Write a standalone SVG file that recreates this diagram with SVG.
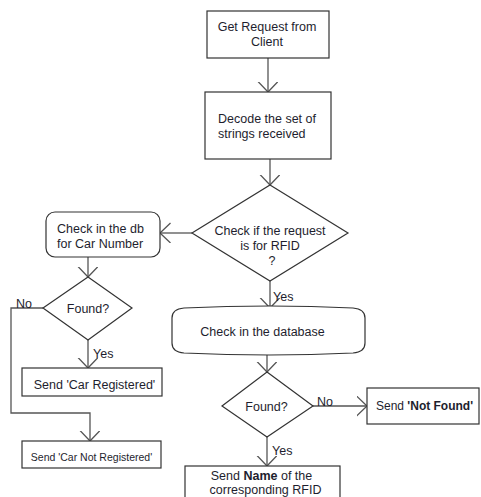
<svg xmlns="http://www.w3.org/2000/svg" width="481" height="497" viewBox="0 0 481 497">
<defs>
<style>
.shape{fill:#fff;stroke:#333;stroke-width:1.2}
.conn{fill:none;stroke:#555;stroke-width:1.3}
text{font-family:"Liberation Sans",Arial,sans-serif;font-size:12.5px;fill:#1e1e2e}
.m{text-anchor:middle}
.sm{font-size:10.5px}
</style>
<marker id="arr" markerUnits="userSpaceOnUse" markerWidth="12" markerHeight="22" refX="10.5" refY="10" orient="auto" viewBox="0 0 12 22">
<path d="M0,0 L10.5,10 L0,20" fill="none" stroke="#555" stroke-width="1.3"/>
</marker>
</defs>
<rect width="481" height="497" fill="#fff"/>
<g id="connectors">
<line class="conn" x1="268" y1="58" x2="268" y2="92" marker-end="url(#arr)"/>
<line class="conn" x1="270" y1="159" x2="270" y2="185" marker-end="url(#arr)"/>
<line class="conn" x1="192" y1="233" x2="160" y2="233" marker-end="url(#arr)"/>
<line class="conn" x1="88" y1="257" x2="88" y2="277" marker-end="url(#arr)"/>
<polyline class="conn" points="43,308 11,308 11,413 90,413 90,441" marker-end="url(#arr)"/>
<line class="conn" x1="88" y1="340" x2="88" y2="368" marker-end="url(#arr)"/>
<line class="conn" x1="270" y1="281" x2="270" y2="308" marker-end="url(#arr)"/>
<line class="conn" x1="267" y1="353" x2="267" y2="372" marker-end="url(#arr)"/>
<line class="conn" x1="313" y1="406" x2="367" y2="406" marker-end="url(#arr)"/>
<line class="conn" x1="267" y1="437" x2="267" y2="466" marker-end="url(#arr)"/>
<text x="16" y="307.5">No</text>
<text x="93" y="357.5">Yes</text>
<text x="273" y="300.5">Yes</text>
<text x="317" y="406">No</text>
<text x="272" y="454.5">Yes</text>
</g>
<g id="get-request">
<rect class="shape" x="207" y="11" width="122" height="47"/>
<text class="m" x="267" y="30.5">Get Request from</text>
<text class="m" x="267" y="45.5">Client</text>
</g>
<g id="decode">
<rect class="shape" x="205" y="92" width="126" height="67"/>
<text x="218" y="122.5">Decode the set of</text>
<text x="218" y="137.5">strings received</text>
</g>
<g id="check-rfid">
<polygon class="shape" points="270,185 348,233 270,281 192,233"/>
<text class="m" x="270" y="234.5">Check if the request</text>
<text class="m" x="270" y="249.5">is for RFID</text>
<text class="m" x="272" y="264.5">?</text>
</g>
<g id="check-db-car">
<rect class="shape" x="46" y="212" width="114" height="45" rx="9" ry="9"/>
<text x="57" y="232.5">Check in the db</text>
<text x="57" y="247.5">for Car Number</text>
</g>
<g id="found-car">
<polygon class="shape" points="88,277 132,308 88,340 43,308"/>
<text class="m" x="88" y="312.5">Found?</text>
</g>
<g id="car-registered">
<rect class="shape" x="22" y="368" width="140" height="28"/>
<text class="m" x="94.5" y="388.5">Send 'Car Registered'</text>
</g>
<g id="car-not-registered">
<rect class="shape" x="22" y="441" width="139" height="27"/>
<text class="m sm" x="91.5" y="461">Send 'Car Not Registered'</text>
</g>
<g id="check-database">
<path class="shape" d="M184,308 Q270,304 353,308 Q365,309 365,318 L365,343 Q365,352 353,353 Q270,357 184,353 Q172,352 172,343 L172,318 Q172,309 184,308 Z"/>
<text class="m" x="262.5" y="335.5">Check in the database</text>
</g>
<g id="found-rfid">
<polygon class="shape" points="267,372 313,406 267,437 222,406"/>
<text class="m" x="266.5" y="410.5">Found?</text>
</g>
<g id="not-found">
<rect class="shape" x="367" y="388" width="112" height="36"/>
<text x="376" y="409.5" style="font-size:12px">Send <tspan font-weight="bold">'Not Found'</tspan></text>
</g>
<g id="send-name">
<rect class="shape" x="185" y="466" width="155" height="40"/>
<text class="m" x="261.5" y="480">Send <tspan font-weight="bold">Name</tspan> of the</text>
<text class="m" x="265.5" y="493.5">corresponding RFID</text>
</g>
</svg>
